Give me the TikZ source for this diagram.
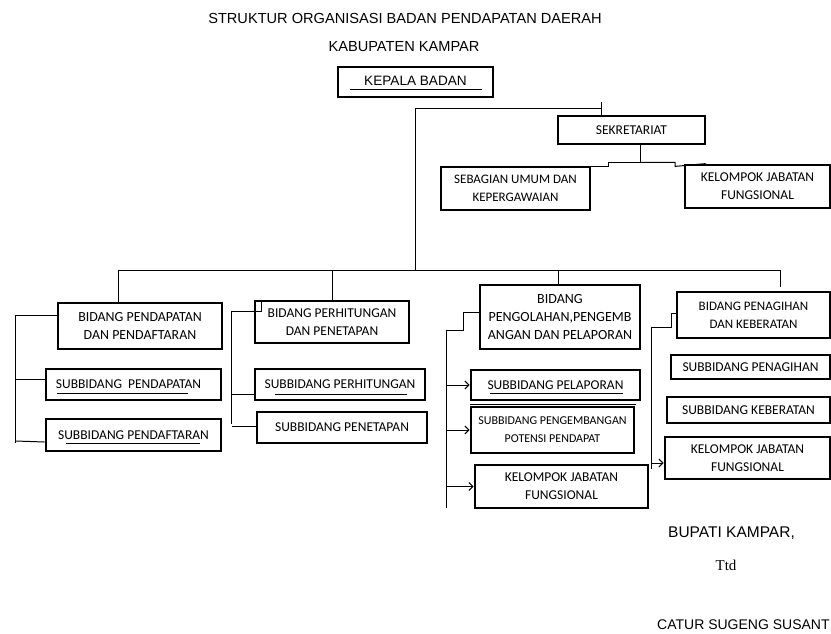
\documentclass[tikz,border=0pt]{standalone}
\usepackage{fontspec}
\setmainfont{Liberation Sans}
\newfontfamily\carlito{Carlito}
\newfontfamily\ttdfont{Liberation Serif}
\usepackage{tikz}
\usetikzlibrary{calc}
\usetikzlibrary{positioning}
\usetikzlibrary{arrows.meta}
\tikzset{kotak/.style={draw, line width=2.8pt, inner sep=0pt, align=center, font=\carlito\fontsize{13.5}{18}\selectfont}}
\tikzset{garis/.style={line width=1pt}}
\tikzset{panah/.style={garis, -{Straight Barb[length=4pt, width=8pt]}}}
\tikzset{judul/.style={font=\fontsize{14.6}{17}\selectfont}}

\begin{document}
\begin{tikzpicture}[x=1pt,y=-1pt]
\useasboundingbox (0,0) rectangle (831,633);
\node[judul] (t1) at (405,18) {STRUKTUR ORGANISASI BADAN PENDAPATAN DAERAH};
\node[judul] (t2) at (404,47) {KABUPATEN KAMPAR};
\node[kotak, font=\fontsize{13.6}{16}\selectfont, minimum width=155pt, minimum height=30pt] (kb) at (415.5,82) {\raisebox{3pt}{KEPALA BADAN}};
\node[kotak, minimum width=147pt, minimum height=28pt] (sek) at (631.5,130) {SEKRETARIAT};
\node[kotak, font=\carlito\fontsize{13}{18}\selectfont, minimum width=149pt, minimum height=43pt] (sum) at (515.5,188.5) {SEBAGIAN UMUM DAN\\KEPERGAWAIAN};
\node[kotak, minimum width=145pt, minimum height=43pt] (ks) at (757.5,186.5) {KELOMPOK JABATAN\\FUNGSIONAL};
\node[kotak, font=\carlito\fontsize{13.9}{18}\selectfont, minimum width=164pt, minimum height=46pt] (bpd) at (140,326) {BIDANG PENDAPATAN\\DAN PENDAFTARAN};
\node[kotak, minimum width=175pt, minimum height=31pt] (sbp1) at (133.5,384.5) {\hspace*{-10pt}SUBBIDANG\ \ PENDAPATAN};
\node[kotak, minimum width=175pt, minimum height=32pt] (sbp2) at (133.5,435) {SUBBIDANG PENDAFTARAN};
\node[kotak, minimum width=154pt, minimum height=42pt] (bpp) at (332,322) {BIDANG PERHITUNGAN\\DAN PENETAPAN};
\node[kotak, minimum width=170pt, minimum height=31pt] (sbh) at (340,384.5) {SUBBIDANG PERHITUNGAN};
\node[kotak, minimum width=170pt, minimum height=31pt] (sbt) at (342,427.5) {SUBBIDANG PENETAPAN};
\node[kotak, font=\carlito\fontsize{14}{18}\selectfont, minimum width=160pt, minimum height=64pt] (bpg) at (560,317) {BIDANG\\PENGOLAHAN,PENGEMB\\ANGAN DAN PELAPORAN};
\node[kotak, minimum width=169pt, minimum height=30pt] (sbl) at (555.5,385) {SUBBIDANG PELAPORAN};
\node[kotak, font=\carlito\fontsize{12}{18}\selectfont, minimum width=163pt, minimum height=46pt] (sbk) at (552.5,430) {SUBBIDANG PENGEMBANGAN\\POTENSI PENDAPAT};
\node[kotak, minimum width=173pt, minimum height=43pt] (kj3) at (561.5,486.5) {KELOMPOK JABATAN\\FUNGSIONAL};
\node[kotak, font=\carlito\fontsize{13}{18}\selectfont, minimum width=153pt, minimum height=46pt] (bpk) at (753.5,315) {BIDANG PENAGIHAN\\DAN KEBERATAN};
\node[kotak, minimum width=159pt, minimum height=24pt] (spn) at (750.5,367) {SUBBIDANG PENAGIHAN};
\node[kotak, minimum width=163pt, minimum height=26pt] (skb) at (748.5,410) {SUBBIDANG KEBERATAN};
\node[kotak, minimum width=165pt, minimum height=42pt] (kj4) at (747.5,458) {KELOMPOK JABATAN\\FUNGSIONAL};
\node[font=\fontsize{15.5}{18}\selectfont] (bup) at (731.5,533) {BUPATI KAMPAR,};
\node[font=\ttdfont\fontsize{15}{18}\selectfont] (ttd) at (726,565) {Ttd};
\node[judul, font=\fontsize{14}{17}\selectfont, anchor=west, inner sep=0pt] (nama) at (657,625) {CATUR SUGENG SUSANT};
\coordinate (k1) at (415,108);
\coordinate (k2) at (415,270);
\coordinate (b1) at (118,270);
\coordinate (b2) at (780,270);
\coordinate (s0) at ([xshift=-30.5pt]sek.north);
\draw[garis] (s0) -- ++(0,-13);
\draw[garis] (k2) -- (k1) -| (s0);
\draw[garis] ([xshift=8.5pt]sek.south) -- ++(0,17) coordinate (s1);
\draw[garis] (s1) -- ++(-32,0) -- ++(0,4) -| (sum.north east);
\draw[garis] (s1) -- ++(35,0) -- ++(0,4) -- ([xshift=22pt]ks.north west);
\draw[garis] ([xshift=-22pt]bpd.north) -- (b1) -- (b2) -- ++(0,17);
\draw[garis] (bpp.north) -- (bpp.north |- b1);
\draw[garis] ([xshift=-2pt]bpg.north) -- ([xshift=-2pt]bpg.north |- b1);
\draw[garis] ([yshift=11pt]bpd.west) -- ++(-41,0) coordinate (c1) -- ++(0,128);
\draw[garis] ([yshift=5pt]sbp1.west) -- ++(-29,0);
\draw[garis] ([yshift=-7pt]sbp2.west) -- ++(-29,-1);
\draw[garis] ([xshift=8pt]bpp.north west) -- ++(0,12) -- ++(-30,0) coordinate (c2) -- ++(0,112);
\draw[garis] ([yshift=-9.5pt]sbh.west) -- ++(-22,0);
\draw[garis] ([yshift=1.5pt]sbt.west) -- ++(-24,0);
\draw[garis] ([yshift=5pt]bpg.west) -- ++(-15,0) -- ++(0,18) -- ++(-17,0) coordinate (c3) -- ++(0,178);
\draw[panah] (c3 |- sbl.west) -- (sbl.west);
\draw[panah] (c3 |- sbk.west) -- (sbk.west);
\draw[panah] (c3 |- kj3.west) -- (kj3.west);
\draw[garis] ([yshift=2pt]bpk.west) -- ++(-4,0) -- ++(0,14) -- ++(-20,0) coordinate (c4) -- ++(0,142);
\draw[panah] ([yshift=-5pt]kj4.west -| c4) -- ([yshift=-5pt]kj4.west);
\draw[line width=1.8pt] ([yshift=-3pt]sbl.south west) -- ([xshift=-5pt, yshift=-3pt]sbl.south east);
\draw[garis] ([shift={(-65.5,7)}]kb.center) -- ([shift={(66.5,7)}]kb.center);
\draw[garis] ([shift={(-76.5,8.5)}]sbp1.center) -- ([shift={(54.5,8.5)}]sbp1.center);
\draw[garis] ([shift={(-67.5,8)}]sbp2.center) -- ([shift={(66.5,8)}]sbp2.center);
\draw[garis] ([shift={(-65,9.5)}]sbh.center) -- ([shift={(67,9.5)}]sbh.center);
\draw[garis] ([shift={(-65.5,8)}]sbl.center) -- ([shift={(67.5,8)}]sbl.center);
\end{tikzpicture}
\end{document}
